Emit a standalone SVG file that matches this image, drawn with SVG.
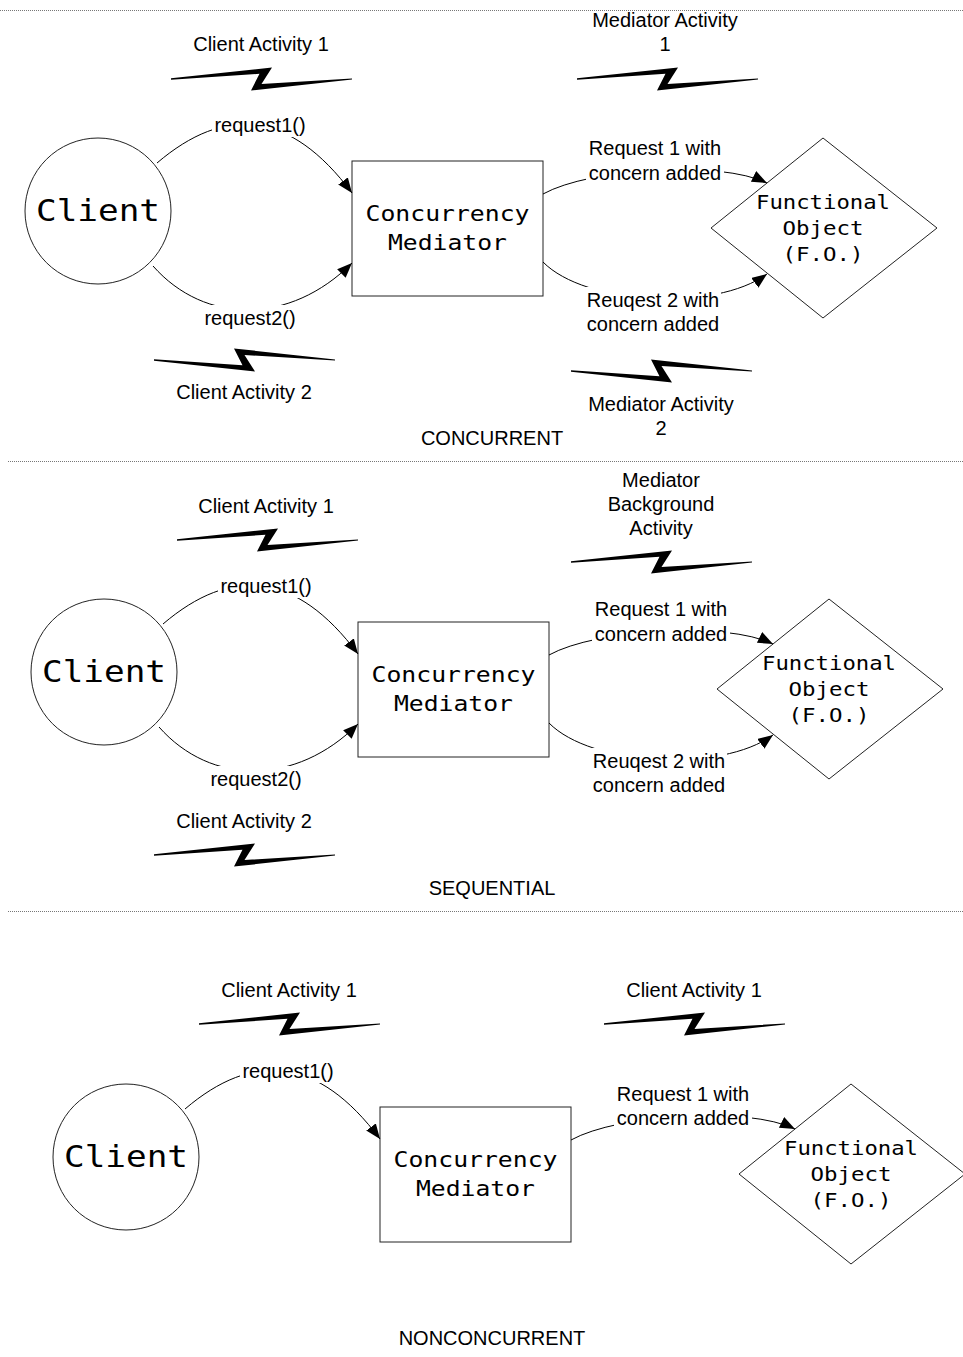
<svg xmlns="http://www.w3.org/2000/svg" xmlns:xlink="http://www.w3.org/1999/xlink" width="963" height="1357" viewBox="0 0 963 1357">
  <style>
    .lbl { font-family: "Liberation Sans", Arial, sans-serif; font-size: 20px; fill: #000; text-anchor: middle; }
    .mono { font-family: "DejaVu Sans Mono", monospace; fill: #000; text-anchor: middle; }
    .big { font-size: 30px; }
    .med { font-size: 22px; }
    .sm { font-size: 20px; }
    .node { fill: #fff; stroke: #222; stroke-width: 1; }
    .conn { fill: none; stroke: #000; stroke-width: 1; marker-end: url(#arrow); }
    .bg { fill: #fff; stroke: none; }
    .sep { stroke: #777; stroke-width: 1; stroke-dasharray: 1 1; }
    .bolt { fill: #000; }
  </style>
  <defs>
    <marker id="arrow" markerWidth="15" markerHeight="12" refX="15" refY="6" orient="auto" markerUnits="userSpaceOnUse">
      <path d="M0,0 L15,6 L0,12 z" fill="#000"/>
    </marker>
    <!-- activity bolt, left tip at origin, 181 wide -->
    <path id="bolt" class="bolt" d="M0,-0.7 L101,-11.5 L90.5,5 L181,-0.6 L181,0.6 L80,11.5 L88.5,-5.2 L0,0.7 Z"/>
  </defs>

  <rect width="963" height="1357" fill="#fff"/>

  <!-- section separators -->
  <g id="separators">
    <line class="sep" x1="0" y1="10.5" x2="963" y2="10.5"/>
    <line class="sep" x1="8" y1="461.5" x2="963" y2="461.5"/>
    <line class="sep" x1="8" y1="911.5" x2="963" y2="911.5"/>
  </g>

  <!-- ===== CONCURRENT ===== -->
  <g id="concurrent-activities">
    <text class="lbl" x="261" y="51">Client Activity 1</text>
    <use xlink:href="#bolt" href="#bolt" transform="translate(171,79)"/>
    <text class="lbl" x="665" y="27">Mediator Activity</text>
    <text class="lbl" x="665" y="51">1</text>
    <use xlink:href="#bolt" href="#bolt" transform="translate(577,79)"/>
    <use xlink:href="#bolt" href="#bolt" transform="translate(154,360) scale(1,-1)"/>
    <text class="lbl" x="244" y="399">Client Activity 2</text>
    <use xlink:href="#bolt" href="#bolt" transform="translate(571,371) scale(1,-1)"/>
    <text class="lbl" x="661" y="411">Mediator Activity</text>
    <text class="lbl" x="661" y="435">2</text>
    <text class="lbl" x="492" y="445">CONCURRENT</text>
  </g>

  <g id="concurrent-client">
    <circle class="node" cx="98" cy="211" r="73"/>
    <text class="mono big" x="98" y="221" textLength="124" lengthAdjust="spacingAndGlyphs">Client</text>
  </g>
  <g id="concurrent-mediator">
    <rect class="node" x="352" y="161" width="191" height="135"/>
    <text class="mono med" x="447.5" y="221" textLength="164" lengthAdjust="spacingAndGlyphs">Concurrency</text>
    <text class="mono med" x="447.5" y="250" textLength="119" lengthAdjust="spacingAndGlyphs">Mediator</text>
  </g>
  <g id="concurrent-fo">
    <polygon class="node" points="823,138 937,228 823,318 711,228"/>
    <text class="mono sm" x="823" y="209" textLength="134" lengthAdjust="spacingAndGlyphs">Functional</text>
    <text class="mono sm" x="823" y="235" textLength="81" lengthAdjust="spacingAndGlyphs">Object</text>
    <text class="mono sm" x="823" y="261" textLength="81" lengthAdjust="spacingAndGlyphs">(F.O.)</text>
  </g>

  <g id="concurrent-connectors">
    <path class="conn" d="M157,163 C225,105 290,110 352,193"/>
    <path class="conn" d="M153,266 C205,325 290,325 352,263"/>
    <path class="conn" d="M543,194 C590,168 720,160 767,183"/>
    <path class="conn" d="M543,262 C585,305 715,312 767,274"/>
    <rect class="bg" x="212" y="115" width="96" height="22"/>
    <text class="lbl" x="260" y="131.5">request1()</text>
    <rect class="bg" x="203" y="305" width="96" height="25"/>
    <text class="lbl" x="250" y="325">request2()</text>
    <rect class="bg" x="586" y="138" width="138" height="48"/>
    <text class="lbl" x="655" y="155">Request 1 with</text>
    <text class="lbl" x="655" y="180">concern added</text>
    <rect class="bg" x="585" y="287" width="136" height="50"/>
    <text class="lbl" x="653" y="307">Reuqest 2 with</text>
    <text class="lbl" x="653" y="331">concern added</text>
  </g>

  <!-- ===== SEQUENTIAL ===== -->
  <g id="sequential-activities">
    <text class="lbl" x="266" y="513">Client Activity 1</text>
    <use xlink:href="#bolt" href="#bolt" transform="translate(177,540)"/>
    <text class="lbl" x="661" y="487">Mediator</text>
    <text class="lbl" x="661" y="511">Background</text>
    <text class="lbl" x="661" y="535">Activity</text>
    <use xlink:href="#bolt" href="#bolt" transform="translate(571,562)"/>
    <text class="lbl" x="244" y="828">Client Activity 2</text>
    <use xlink:href="#bolt" href="#bolt" transform="translate(154,855)"/>
    <text class="lbl" x="492" y="895">SEQUENTIAL</text>
  </g>

  <g id="sequential-client">
    <circle class="node" cx="104" cy="672" r="73"/>
    <text class="mono big" x="104" y="682" textLength="124" lengthAdjust="spacingAndGlyphs">Client</text>
  </g>
  <g id="sequential-mediator">
    <rect class="node" x="358" y="622" width="191" height="135"/>
    <text class="mono med" x="453.5" y="682" textLength="164" lengthAdjust="spacingAndGlyphs">Concurrency</text>
    <text class="mono med" x="453.5" y="711" textLength="119" lengthAdjust="spacingAndGlyphs">Mediator</text>
  </g>
  <g id="sequential-fo">
    <polygon class="node" points="829,599 943,689 829,779 717,689"/>
    <text class="mono sm" x="829" y="670" textLength="134" lengthAdjust="spacingAndGlyphs">Functional</text>
    <text class="mono sm" x="829" y="696" textLength="81" lengthAdjust="spacingAndGlyphs">Object</text>
    <text class="mono sm" x="829" y="722" textLength="81" lengthAdjust="spacingAndGlyphs">(F.O.)</text>
  </g>

  <g id="sequential-connectors">
    <path class="conn" d="M163,624 C231,566 296,571 358,654"/>
    <path class="conn" d="M159,727 C211,786 296,786 358,724"/>
    <path class="conn" d="M549,655 C596,629 726,621 773,644"/>
    <path class="conn" d="M549,723 C591,766 721,773 773,735"/>
    <rect class="bg" x="218" y="576" width="96" height="22"/>
    <text class="lbl" x="266" y="592.5">request1()</text>
    <rect class="bg" x="209" y="766" width="96" height="25"/>
    <text class="lbl" x="256" y="786">request2()</text>
    <rect class="bg" x="592" y="599" width="138" height="48"/>
    <text class="lbl" x="661" y="616">Request 1 with</text>
    <text class="lbl" x="661" y="641">concern added</text>
    <rect class="bg" x="591" y="748" width="136" height="50"/>
    <text class="lbl" x="659" y="768">Reuqest 2 with</text>
    <text class="lbl" x="659" y="792">concern added</text>
  </g>

  <!-- ===== NONCONCURRENT ===== -->
  <g id="nonconcurrent-activities">
    <text class="lbl" x="289" y="997">Client Activity 1</text>
    <use xlink:href="#bolt" href="#bolt" transform="translate(199,1024)"/>
    <text class="lbl" x="694" y="997">Client Activity 1</text>
    <use xlink:href="#bolt" href="#bolt" transform="translate(604,1024)"/>
    <text class="lbl" x="492" y="1345">NONCONCURRENT</text>
  </g>

  <g id="nonconcurrent-client">
    <circle class="node" cx="126" cy="1157" r="73"/>
    <text class="mono big" x="126" y="1167" textLength="124" lengthAdjust="spacingAndGlyphs">Client</text>
  </g>
  <g id="nonconcurrent-mediator">
    <rect class="node" x="380" y="1107" width="191" height="135"/>
    <text class="mono med" x="475.5" y="1167" textLength="164" lengthAdjust="spacingAndGlyphs">Concurrency</text>
    <text class="mono med" x="475.5" y="1196" textLength="119" lengthAdjust="spacingAndGlyphs">Mediator</text>
  </g>
  <g id="nonconcurrent-fo">
    <polygon class="node" points="851,1084 965,1174 851,1264 739,1174"/>
    <text class="mono sm" x="851" y="1155" textLength="134" lengthAdjust="spacingAndGlyphs">Functional</text>
    <text class="mono sm" x="851" y="1181" textLength="81" lengthAdjust="spacingAndGlyphs">Object</text>
    <text class="mono sm" x="851" y="1207" textLength="81" lengthAdjust="spacingAndGlyphs">(F.O.)</text>
  </g>

  <g id="nonconcurrent-connectors">
    <path class="conn" d="M185,1109 C253,1051 318,1056 380,1139"/>
    <path class="conn" d="M571,1140 C618,1114 748,1106 795,1129"/>
    <rect class="bg" x="240" y="1061" width="96" height="22"/>
    <text class="lbl" x="288" y="1077.5">request1()</text>
    <rect class="bg" x="614" y="1084" width="138" height="48"/>
    <text class="lbl" x="683" y="1101">Request 1 with</text>
    <text class="lbl" x="683" y="1125">concern added</text>
  </g>
</svg>
